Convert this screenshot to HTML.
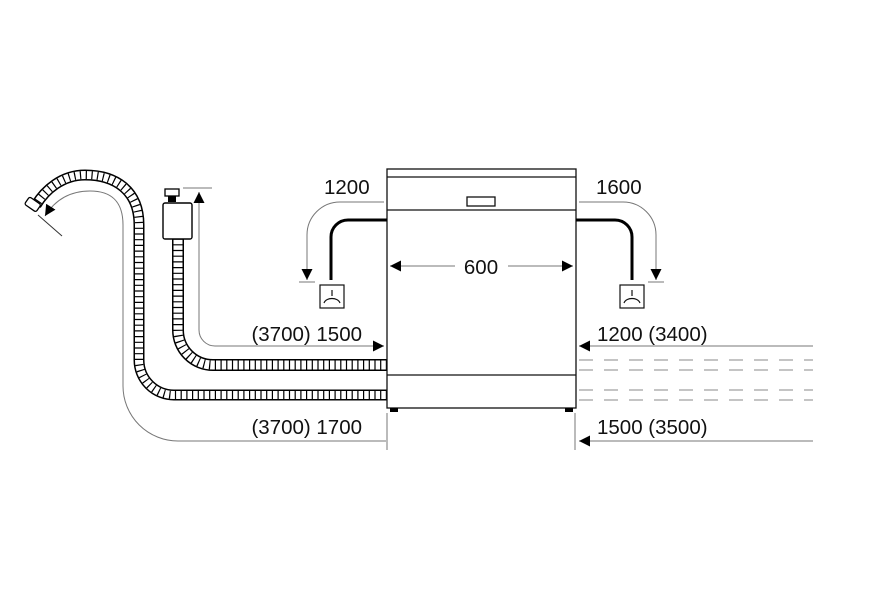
<!DOCTYPE html>
<html><head><style>
html,body{margin:0;padding:0;background:#fff;}
svg{display:block;}
text{font-family:"Liberation Sans",sans-serif;font-size:20.5px;fill:#111;}
</style></head><body>
<svg width="874" height="608" viewBox="0 0 874 608" xmlns="http://www.w3.org/2000/svg">
<defs>
<marker id="a" viewBox="0 0 10 10" refX="10" refY="5" markerWidth="11" markerHeight="11" markerUnits="userSpaceOnUse" orient="auto"><path d="M0,0 L10,5 L0,10 z" fill="#000"/></marker>
</defs>
<g fill="none">
<path d="M387 395 L174 395 A35 35 0 0 1 139 360 L139 225 C139 190 115 175 85 175 C62 175 45 190 36 205" stroke="#000" stroke-width="11"/>
<path d="M387 395 L174 395 A35 35 0 0 1 139 360 L139 225 C139 190 115 175 85 175 C62 175 45 190 36 205" stroke="#fff" stroke-width="8"/>
<path d="M387 395 L174 395 A35 35 0 0 1 139 360 L139 225 C139 190 115 175 85 175 C62 175 45 190 36 205" stroke="#000" stroke-width="8" stroke-dasharray="1.2 4.5"/>
<path d="M387 365 L213 365 A35 35 0 0 1 178 330 L178 239" stroke="#000" stroke-width="12"/>
<path d="M387 365 L213 365 A35 35 0 0 1 178 330 L178 239" stroke="#fff" stroke-width="9"/>
<path d="M387 365 L213 365 A35 35 0 0 1 178 330 L178 239" stroke="#000" stroke-width="9" stroke-dasharray="1.2 4.5"/>
</g>
<rect x="26" y="200" width="14" height="9" rx="2" transform="rotate(35 33 204)" fill="#fff" stroke="#000" stroke-width="1.3"/>
<line x1="38" y1="215" x2="62" y2="236" stroke="#333" stroke-width="1"/>
<rect x="165" y="189" width="14" height="7" fill="#fff" stroke="#000" stroke-width="1.3"/>
<rect x="168" y="196" width="8" height="6" fill="#000"/>
<rect x="163" y="203" width="29" height="36" rx="2" fill="#fff" stroke="#000" stroke-width="1.4"/>
<g fill="none" stroke="#777" stroke-width="1">
<path d="M386 441 L178 441 A55 55 0 0 1 123 386 L123 225 C123 200 110 191 90 191 C70 191 55 200 45 216" marker-end="url(#a)"/>
<path d="M199 330 A16 16 0 0 0 215 346 L384 346" marker-end="url(#a)"/>
<path d="M199 330 L199 192" marker-end="url(#a)"/>
<line x1="183" y1="188" x2="212" y2="188"/>
<path d="M384 202 L340 202 A33 33 0 0 0 307 235 L307 280" marker-end="url(#a)"/>
<line x1="299" y1="282" x2="315" y2="282"/>
<path d="M579 202 L623 202 A33 33 0 0 1 656 235 L656 280" marker-end="url(#a)"/>
<line x1="648" y1="282" x2="664" y2="282"/>
<path d="M813 346 L579 346" marker-end="url(#a)"/>
<path d="M813 441 L579 441" marker-end="url(#a)"/>
<line x1="387" y1="413" x2="387" y2="450"/>
<line x1="575" y1="413" x2="575" y2="450"/>
<path d="M455 266 L390 266" marker-end="url(#a)"/>
<path d="M508 266 L573 266" marker-end="url(#a)"/>
</g>
<g stroke="#888" stroke-width="1" stroke-dasharray="14 11">
<line x1="579" y1="360" x2="813" y2="360"/>
<line x1="579" y1="370" x2="813" y2="370"/>
<line x1="579" y1="390" x2="813" y2="390"/>
<line x1="579" y1="400" x2="813" y2="400"/>
</g>
<g fill="none" stroke="#111" stroke-width="1.3">
<rect x="387" y="169" width="189" height="239"/>
<line x1="387" y1="177" x2="576" y2="177"/>
<line x1="387" y1="210" x2="576" y2="210"/>
<line x1="387" y1="375" x2="576" y2="375"/>
<rect x="467" y="197" width="28" height="9"/>
</g>
<rect x="390" y="408" width="8" height="4" fill="#000"/>
<rect x="565" y="408" width="8" height="4" fill="#000"/>
<g fill="none" stroke="#000" stroke-width="3">
<path d="M387 220 L348 220 A17 17 0 0 0 331 237 L331 280"/>
<path d="M576 220 L615 220 A17 17 0 0 1 632 237 L632 280"/>
</g>
<g fill="none" stroke="#111" stroke-width="1.2">
<rect x="320" y="285" width="24" height="23"/>
<path d="M332 290 L332 296 M324 303 C326 297 338 297 340 303"/>
<rect x="620" y="285" width="24" height="23"/>
<path d="M632 290 L632 296 M624 303 C626 297 638 297 640 303"/>
</g>
<text x="324" y="194">1200</text>
<text x="596" y="194">1600</text>
<text x="481" y="274" text-anchor="middle">600</text>
<text x="362" y="341" text-anchor="end">(3700) 1500</text>
<text x="362" y="434" text-anchor="end">(3700) 1700</text>
<text x="597" y="341">1200 (3400)</text>
<text x="597" y="434">1500 (3500)</text>
</svg>
</body></html>
